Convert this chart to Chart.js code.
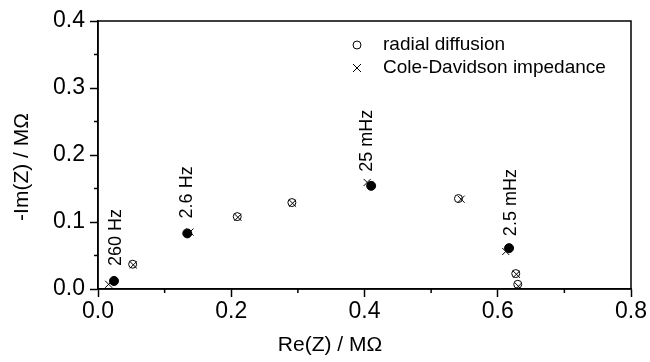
<!DOCTYPE html>
<html>
<head>
<meta charset="utf-8">
<script src="https://cdn.jsdelivr.net/npm/chart.js@4"></script>
<style>
  html, body { margin: 0; padding: 0; background: #fff; }
  #wrap { width: 650px; height: 362px; }
</style>
</head>
<body>
<div id="wrap"><canvas id="myChart" width="650" height="362"></canvas></div>
<script>
// radial diffusion (open circles, filled at marked frequencies)
const radialX = [0.024, 0.052, 0.134, 0.209, 0.291, 0.410, 0.541, 0.617, 0.627, 0.630];
const radialY = [0.012, 0.037, 0.083, 0.108, 0.129, 0.154, 0.135, 0.061, 0.023, 0.007];
const radialFilled = [true, false, true, false, false, true, false, true, false, false];
// Cole-Davidson impedance (crosses)
const coleX = [0.016, 0.053, 0.138, 0.210, 0.292, 0.404, 0.545, 0.612, 0.628, 0.631];
const coleY = [0.007, 0.036, 0.085, 0.107, 0.128, 0.159, 0.134, 0.056, 0.022, 0.004];
// frequency labels on the filled points
const freqLabels = ['260 Hz', '', '2.6 Hz', '', '', '25 mHz', '', '2.5 mHz', '', ''];

const FONT = 'Arial, "Liberation Sans", sans-serif';
const labelShift = { '260 Hz': [2, 15], '2.6 Hz': [0, 15], '25 mHz': [-4, 14], '2.5 mHz': [2, 12] };

var ctx = document.getElementById('myChart').getContext('2d');

const isMajorX = v => Math.round(v * 10) % 2 === 0;
const isMajorY = v => Math.round(v * 20) % 2 === 0;

const extras = {
    id: 'extras',
    afterDraw(chart) {
        const c = chart.ctx;
        const a = chart.chartArea;
        const xs = chart.scales.x, ys = chart.scales.y;
        c.save();
        c.strokeStyle = '#000';
        c.lineWidth = 1.5;
        // frame
        c.strokeRect(a.left, a.top, a.right - a.left, a.bottom - a.top);
        // minor ticks
        c.beginPath();
        xs.ticks.forEach(t => {
            if (!isMajorX(t.value)) {
                const p = xs.getPixelForValue(t.value);
                c.moveTo(p, a.bottom); c.lineTo(p, a.bottom + 4);
            }
        });
        ys.ticks.forEach(t => {
            if (!isMajorY(t.value)) {
                const p = ys.getPixelForValue(t.value);
                c.moveTo(a.left, p); c.lineTo(a.left - 4, p);
            }
        });
        c.stroke();

        // frequency annotations
        c.fillStyle = '#000';
        c.font = '18px ' + FONT;
        c.textAlign = 'left';
        c.textBaseline = 'middle';
        freqLabels.forEach((lab, i) => {
            if (!lab) return;
            const px = xs.getPixelForValue(radialX[i]);
            const py = ys.getPixelForValue(radialY[i]);
            const s = labelShift[lab];
            c.save();
            c.translate(px + s[0], py - s[1]);
            c.rotate(-Math.PI / 2);
            c.fillText(lab, 0, 0);
            c.restore();
        });

        // legend
        c.font = '19px ' + FONT;
        c.lineWidth = 1;
        c.beginPath();
        c.arc(357, 45, 4, 0, Math.PI * 2);
        c.stroke();
        c.beginPath();
        c.moveTo(353, 64); c.lineTo(361, 72);
        c.moveTo(361, 64); c.lineTo(353, 72);
        c.stroke();
        c.fillText('radial diffusion', 383, 45);
        c.fillText('Cole-Davidson impedance', 383, 68);

        // axis titles
        c.font = '21px ' + FONT;
        c.textAlign = 'center';
        c.fillText('Re(Z) / M\u03A9', 330, 345);
        c.save();
        c.translate(22, 167);
        c.rotate(-Math.PI / 2);
        c.fillText('-Im(Z) / M\u03A9', 0, 0);
        c.restore();
        c.restore();
    }
};

const data = {
    datasets: [
        {
            label: 'radial diffusion',
            data: radialX.map((x, i) => ({ x: x, y: radialY[i] })),
            pointStyle: 'circle',
            pointRadius: radialFilled.map(f => f ? 4.5 : 4),
            pointBackgroundColor: radialFilled.map(f => f ? '#000' : 'rgba(0,0,0,0)'),
            pointBorderColor: '#000',
            pointBorderWidth: 1,
            showLine: false,
            order: 1
        },
        {
            label: 'Cole-Davidson impedance',
            data: coleX.map((x, i) => ({ x: x, y: coleY[i] })),
            pointStyle: 'crossRot',
            pointRadius: 5,
            pointBorderColor: '#000',
            pointBorderWidth: 1,
            showLine: false,
            order: 2
        }
    ]
};

var myChart = new Chart(ctx, {
    type: 'scatter',
    data: data,
    options: {
        responsive: false,
        animation: false,
        layout: { padding: { top: 21, right: 19, left: 0, bottom: 0 } },
        plugins: { legend: { display: false }, tooltip: { enabled: false } },
        scales: {
            x: {
                type: 'linear',
                min: 0, max: 0.8,
                ticks: {
                    stepSize: 0.1, autoSkip: false, maxRotation: 0,
                    color: '#000', padding: 1,
                    font: { family: FONT, size: 23 },
                    callback: v => isMajorX(v) ? v.toFixed(1) : ''
                },
                grid: {
                    drawOnChartArea: false, tickLength: 8, tickWidth: 1.5,
                    tickColor: c => isMajorX(c.tick.value) ? '#000' : 'rgba(0,0,0,0)'
                },
                border: { color: '#000', width: 1.5 },
                afterFit: s => { s.height = 73; }
            },
            y: {
                type: 'linear',
                min: 0, max: 0.4,
                ticks: {
                    stepSize: 0.05, autoSkip: false,
                    color: '#000', padding: 5,
                    font: { family: FONT, size: 23 },
                    callback: v => isMajorY(v) ? v.toFixed(1) : ''
                },
                grid: {
                    drawOnChartArea: false, tickLength: 8, tickWidth: 1.5,
                    tickColor: c => isMajorY(c.tick.value) ? '#000' : 'rgba(0,0,0,0)'
                },
                border: { color: '#000', width: 1.5 },
                afterFit: s => { s.width = 98; }
            }
        }
    },
    plugins: [extras]
});
</script>
</body>
</html>
